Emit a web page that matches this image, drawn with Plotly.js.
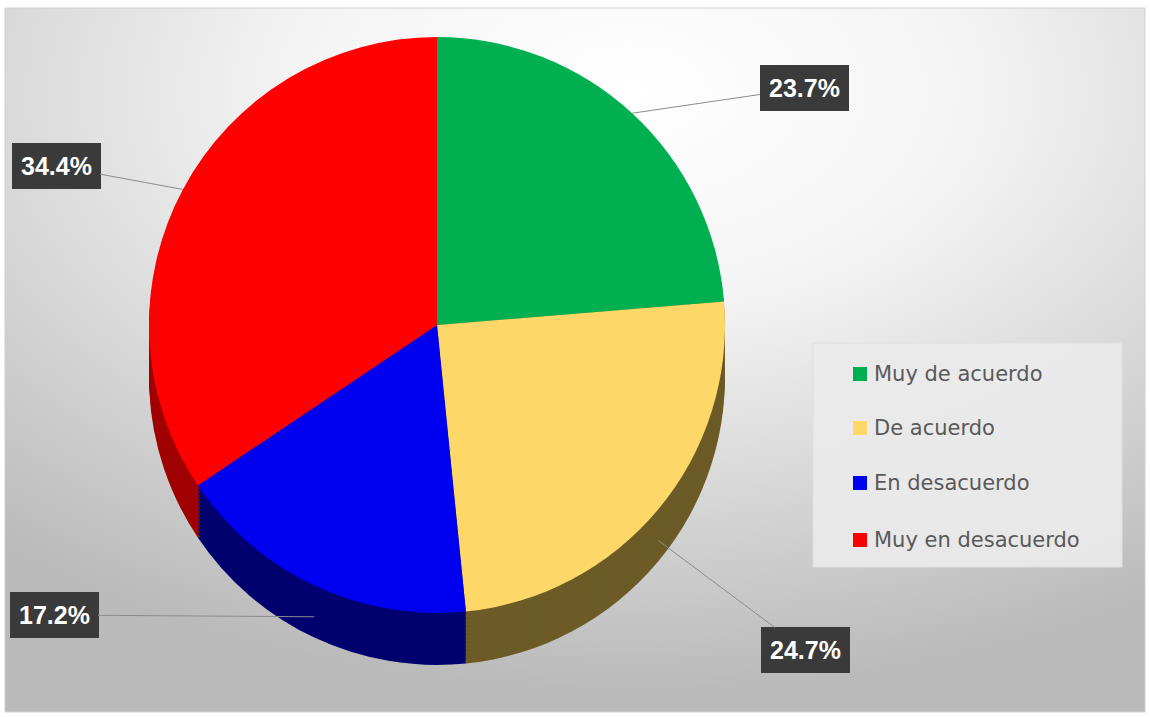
<!DOCTYPE html>
<html>
<head>
<meta charset="utf-8">
<script src="https://cdn.plot.ly/plotly-3.0.1.min.js"></script>
<style>html,body{margin:0;padding:0;background:#fff;}#chart{width:1150px;height:717px;}</style>
</head>
<body>
<div id="chart"></div>
<script>
// ---- data ----
const categories = ['Muy de acuerdo', 'De acuerdo', 'En desacuerdo', 'Muy en desacuerdo'];
const values = [23.7, 24.7, 17.2, 34.4];
const labelTexts = ['23.7%', '24.7%', '17.2%', '34.4%'];

// ---- styles / layout ----
const topColors = ['#00b050', '#fdd868', '#0000f0', '#ff0000'];
const sideColors = ['#006a30', '#6c5b26', '#00006e', '#a00000'];
const W = 1150, H = 717;
const cx = 437, cy = 325, r = 288, depth = 52;
// label box centres (pixels)
const labelBoxes = [[804, 88], [805, 650], [54, 615], [56, 166]];
const legendItemsY = [374, 428, 483, 540];

function domainFor(shift) {
  return {
    x: [(cx - r) / W, (cx + r) / W],
    y: [1 - (cy + r + shift) / H, 1 - (cy - r + shift) / H]
  };
}

const traces = [];
// extruded side (several shifted copies of the same pie)
const shifts = [];
for (let s = depth; s > 0; s -= 4) shifts.push(s);
shifts.forEach(s => {
  traces.push({
    type: 'pie', values: values, labels: categories, sort: false,
    direction: 'clockwise', rotation: 0,
    marker: {colors: sideColors, line: {width: 0}},
    textinfo: 'none', textposition: 'none', hoverinfo: 'skip',
    showlegend: false, domain: domainFor(s)
  });
});
// top surface
traces.push({
  type: 'pie', values: values, labels: categories, sort: false,
  direction: 'clockwise', rotation: 0,
  marker: {colors: topColors, line: {width: 0}},
  textinfo: 'none', textposition: 'none',
  showlegend: false, domain: domainFor(0)
});

// leader-line annotations, anchored on each slice's mid angle
const total = values.reduce((a, b) => a + b, 0);
const annotations = [];
let cum = 0;
values.forEach((v, i) => {
  const mid = (cum + v / 2) / total * 2 * Math.PI;
  cum += v;
  let px = cx + r * Math.sin(mid);
  let py = cy - r * Math.cos(mid);
  if (Math.cos(mid) < 0) py += depth * 0.6;
  const [bx, by] = labelBoxes[i];
  annotations.push({
    xref: 'paper', yref: 'paper', x: px / W, y: 1 - py / H,
    ax: bx - px, ay: by - py,
    text: '<b>' + labelTexts[i] + '</b>',
    showarrow: true, arrowhead: 0, arrowwidth: 1, arrowcolor: '#8c8c8c',
    font: {family: 'Liberation Sans, Arial, sans-serif', size: 25, color: '#ffffff'},
    bgcolor: '#3a3a3a', borderpad: 8, bordercolor: '#3a3a3a', borderwidth: 1
  });
});

// manual legend
const shapes = [];
shapes.push({type: 'rect', xref: 'paper', yref: 'paper',
  x0: 5 / W, x1: 1145 / W, y0: 1 - 712 / H, y1: 1 - 8 / H,
  line: {color: '#d0d0d0', width: 1}, fillcolor: 'rgba(0,0,0,0)', layer: 'below'});
shapes.push({type: 'rect', xref: 'paper', yref: 'paper',
  x0: 813 / W, x1: 1122 / W, y0: 1 - 567 / H, y1: 1 - 343 / H,
  line: {color: '#dedede', width: 1}, fillcolor: 'rgba(234,234,234,0.92)'});
categories.forEach((c, i) => {
  const y = legendItemsY[i];
  shapes.push({type: 'rect', xref: 'paper', yref: 'paper',
    x0: 853 / W, x1: 867 / W, y0: 1 - (y + 7) / H, y1: 1 - (y - 7) / H,
    line: {width: 0}, fillcolor: topColors[i]});
  annotations.push({xref: 'paper', yref: 'paper', x: 872 / W, y: 1 - y / H,
    xanchor: 'left', yanchor: 'middle', showarrow: false, text: c,
    font: {family: 'DejaVu Sans, sans-serif', size: 21, color: '#595959'}});
});

const svg = '<svg xmlns="http://www.w3.org/2000/svg" width="1140" height="704" preserveAspectRatio="none">' +
  '<defs><radialGradient id="g" cx="0.55" cy="0.12" r="0.85" fx="0.55" fy="0.12">' +
  '<stop offset="0" stop-color="#ffffff"/><stop offset="0.35" stop-color="#f4f4f4"/>' +
  '<stop offset="1" stop-color="#bababa"/></radialGradient></defs>' +
  '<rect width="1140" height="704" fill="url(#g)"/></svg>';

const layout = {
  width: W, height: H,
  margin: {l: 0, r: 0, t: 0, b: 0},
  paper_bgcolor: '#ffffff',
  showlegend: false,
  images: [{
    source: 'data:image/svg+xml;charset=utf-8,' + encodeURIComponent(svg),
    xref: 'paper', yref: 'paper', x: 5 / W, y: 1 - 8 / H,
    sizex: 1140 / W, sizey: 704 / H, sizing: 'stretch',
    xanchor: 'left', yanchor: 'top', layer: 'below'
  }],
  shapes: shapes,
  annotations: annotations
};

Plotly.newPlot('chart', traces, layout, {displayModeBar: false, staticPlot: true});
</script>
</body>
</html>
